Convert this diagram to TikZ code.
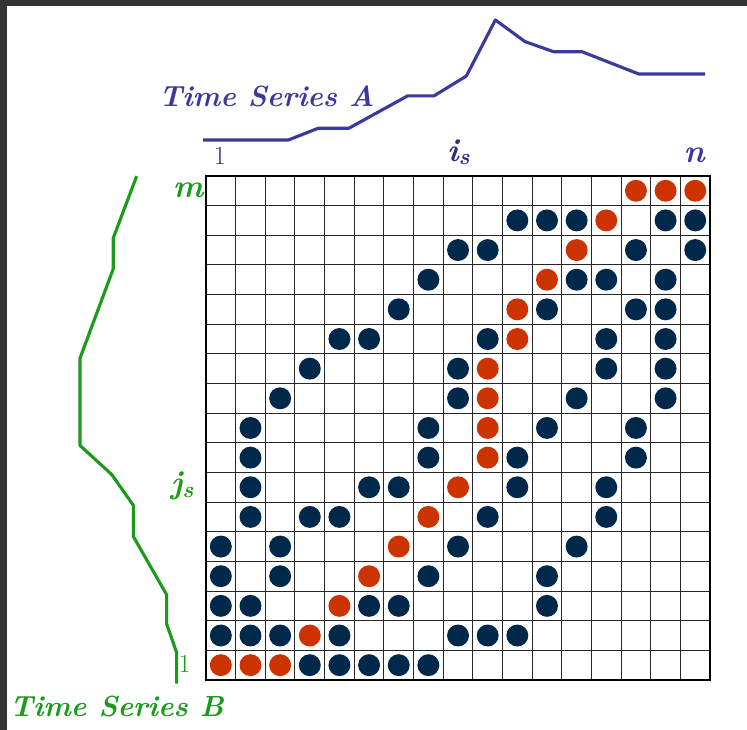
\documentclass[tikz,border=0pt]{standalone}
\usepackage{amsmath}
\usepackage{amssymb}
\usepackage{tikz}
\usepackage{xcolor}

\definecolor{dotblue}{HTML}{00284B}
\definecolor{dotred}{HTML}{CC3300}
\definecolor{seriesA}{HTML}{3A3A9E}
\definecolor{seriesB}{HTML}{1C9A1C}
\definecolor{labA}{HTML}{2E2E80}
\definecolor{framegray}{HTML}{333333}

\begin{document}
\begin{tikzpicture}[
  gridline/.style={line width=1pt, black!85},
  serieslabel/.style={font=\fontsize{28}{33}\selectfont\bfseries\itshape, inner sep=0pt},
  axislabel/.style={font=\fontsize{25}{30}\selectfont, inner sep=0pt},
  idxlabel/.style={font=\fontsize{31}{36}\selectfont\bfseries\itshape, inner sep=0pt}
]
% Page
\useasboundingbox (-6.948,-1.686) rectangle (18.246,22.934);
\fill[white] (-6.948,-1.686) rectangle (18.246,22.934);
\fill[framegray] (-6.948,22.73) rectangle (18.246,22.934);
\fill[framegray] (-6.948,-1.686) rectangle (-6.71,22.934);

% Grid
\draw[gridline] (0,0) grid (17,17);
\draw[line width=1.8pt] (0,0) rectangle (17,17);

% Blue dots
\foreach \row/\cols in {1/{4,5,6,7,8}, 2/{1,2,3,5,9,10,11}, 3/{1,2,6,7,12},
  4/{1,3,8,12}, 5/{1,3,9,13}, 6/{2,4,5,10,14}, 7/{2,6,7,11,14},
  8/{2,8,11,15}, 9/{2,8,12,15}, 10/{3,9,13,16}, 11/{4,9,14,16},
  12/{5,6,10,14,16}, 13/{7,12,15,16}, 14/{8,13,14,16}, 15/{9,10,15,17},
  16/{11,12,13,16,17}}
  \foreach \col in \cols
    \fill[dotblue] (\col-0.5,\row-0.5) circle (0.37);

% Red dots (warping path)
\foreach \col/\row in {1/1, 2/1, 3/1, 4/2, 5/3, 6/4, 7/5, 8/6, 9/7, 10/8, 10/9,
  10/10, 10/11, 11/12, 11/13, 12/14, 13/15, 14/16, 15/17, 16/17, 17/17}
  \fill[dotred] (\col-0.5,\row-0.5) circle (0.37);

% Time Series A
\draw[seriesA, line width=3pt, line join=round] (-0.10,18.21) -- (2.77,18.21)
  -- (3.79,18.61) -- (4.82,18.61) -- (6.80,19.70) -- (7.69,19.70)
  -- (8.78,20.37) -- (9.76,22.26) -- (10.76,21.53) -- (11.72,21.19)
  -- (12.68,21.19) -- (14.59,20.44) -- (16.83,20.44);
\node[serieslabel, seriesA] (nameA) at (2.05,19.68) {Time Series A};

% Time Series B
\draw[seriesB, line width=3pt, line join=round] (-2.34,16.99) -- (-3.13,14.90)
  -- (-3.13,13.86) -- (-4.25,10.85) -- (-4.25,7.91) -- (-3.18,6.93)
  -- (-2.45,5.89) -- (-2.45,4.84) -- (-1.33,2.88) -- (-1.33,1.90)
  -- (-0.99,0.92) -- (-0.99,-0.12);
\node[serieslabel, seriesB] (nameB) at (-3.01,-0.89) {Time Series B};

% Indices
\node[axislabel, labA] (colfirst) at (0.47,17.66) {1};
\node[idxlabel, labA] (colis) at (8.52,17.80) {i\textsubscript{s}};
\node[idxlabel, seriesA] (colln) at (16.46,17.68) {n};
\node[idxlabel, seriesB] (rowm) at (-0.60,16.52) {m};
\node[idxlabel, seriesB] (rowjs) at (-0.80,6.55) {j\textsubscript{s}};
\node[axislabel, seriesB] (rowfirst) at (-0.72,0.53) {1};
\end{tikzpicture}
\end{document}
